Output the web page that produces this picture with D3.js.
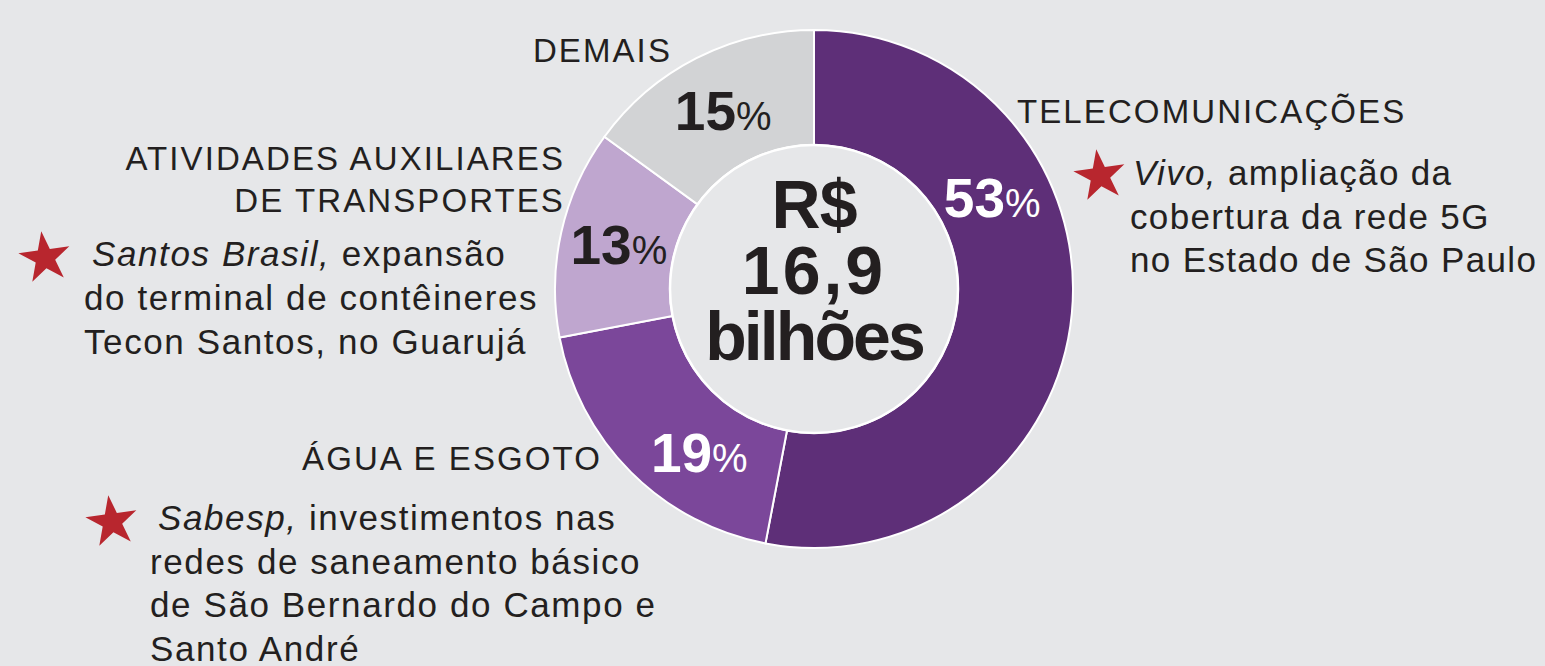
<!DOCTYPE html>
<html lang="pt">
<head>
    <meta charset="utf-8">
    <title>Investimentos por setor</title>
    <style>
        html, body { margin: 0; padding: 0; background: #e6e7e9; }
        svg text { font-family: "Liberation Sans", Arial, sans-serif; fill: #231f20; }
        .cat { font-size: 33px; letter-spacing: 2.1px; }
        .note { font-size: 35px; letter-spacing: 1.6px; }
        .note.right { letter-spacing: 1.35px; }
        .pct { font-size: 55px; font-weight: bold; }
        .center { font-size: 68px; font-weight: bold; }
    </style>
    <script src="https://d3js.org/d3.v7.min.js"></script>
</head>
<body>
<div id="chart"></div>
<script>
    // slices, clockwise from 12 o'clock
    const sectors = ["TELECOMUNICAÇÕES", "ÁGUA E ESGOTO", "ATIVIDADES AUXILIARES DE TRANSPORTES", "DEMAIS"];
    const shares = [53, 19, 13, 15];
    const colors = ["#5e2f78", "#7b479a", "#bfa6cf", "#d2d3d5"];
    const pctColors = ["#ffffff", "#ffffff", "#231f20", "#231f20"];
    const centerLines = ["R$", "16,9", "bilhões"];

    const width = 1545, height = 666;
    const cx = 814, cy = 289, rOuter = 259, rInner = 144;

    const svg = d3.select("#chart")
        .append("svg")
        .attr("width", width)
        .attr("height", height);

    svg.append("rect").attr("width", width).attr("height", height).attr("fill", "#e6e7e9");

    const g = svg.append("g").attr("transform", `translate(${cx},${cy})`);

    const pie = d3.pie().sort(null).value(d => d);
    const arcs = pie(shares);
    const arc = d3.arc().innerRadius(rInner).outerRadius(rOuter);

    g.selectAll("path.slice")
        .data(arcs)
        .join("path")
        .attr("class", "slice")
        .attr("d", arc)
        .attr("fill", (d, i) => colors[i])
        .attr("stroke", "#ffffff")
        .attr("stroke-width", 2);

    // white ring round the hole
    g.append("circle")
        .attr("r", rInner)
        .attr("fill", "#e6e7e9")
        .attr("stroke", "#ffffff")
        .attr("stroke-width", 2.5);

    // percentage labels: angle (deg, clockwise from top) where each sits
    const labelAngle = [63, 215, null, null];
    const labelR = 200;
    arcs.forEach((a, i) => {
        const ang = labelAngle[i] !== null ? labelAngle[i] * Math.PI / 180 : (a.startAngle + a.endAngle) / 2;
        const x = labelR * Math.sin(ang), y = -labelR * Math.cos(ang);
        const t = g.append("text")
            .attr("class", "pct")
            .attr("x", x)
            .attr("y", y + 19)
            .attr("text-anchor", "middle")
            .style("fill", pctColors[i]);
        t.append("tspan").text(shares[i]);
        t.append("tspan").style("font-size", "40px").style("font-weight", "normal").text("%");
    });

    // centre total, one text block
    const spacing = [-1, 3, -2.9];
    g.append("text")
        .attr("class", "center")
        .attr("text-anchor", "middle")
        .selectAll("tspan")
        .data(centerLines)
        .join("tspan")
        .attr("x", 0)
        .attr("y", (d, i) => -61 + i * 66)
        .style("letter-spacing", (d, i) => spacing[i] + "px")
        .text(d => d);

    function lines(x, y, anchor, rows, cls, step, indent) {
        const t = svg.append("text").attr("class", cls).attr("text-anchor", anchor);
        rows.forEach((r, i) => {
            const ts = t.append("tspan").attr("x", x).attr("y", y + i * step);
            if (i === 0 && indent) ts.attr("dx", indent);
            r.forEach(part => {
                ts.append("tspan").style("font-style", part[1] ? "italic" : null).text(part[0]);
            });
        });
    }

    // category titles
    lines(672, 62, "end", [[["DEMAIS"]]], "cat", 42);
    lines(1017, 123, "start", [[["TELECOMUNICAÇÕES"]]], "cat", 42);
    lines(565, 170, "end", [[["ATIVIDADES AUXILIARES"]], [["DE TRANSPORTES"]]], "cat", 42);
    lines(602, 470, "end", [[["ÁGUA E ESGOTO"]]], "cat", 42);

    // notes
    lines(1130, 185, "start", [
        [["Vivo,", true], [" ampliação da"]],
        [["cobertura da rede 5G"]],
        [["no Estado de São Paulo"]]
    ], "note right", 43.5, 3);

    lines(84, 266, "start", [
        [["Santos Brasil,", true], [" expansão"]],
        [["do terminal de contêineres"]],
        [["Tecon Santos, no Guarujá"]]
    ], "note", 44, 8);

    lines(150, 530, "start", [
        [["Sabesp,", true], [" investimentos nas"]],
        [["redes de saneamento básico"]],
        [["de São Bernardo do Campo e"]],
        [["Santo André"]]
    ], "note", 43.5, 8);

    // red stars
    const star = d3.symbol().type(d3.symbolStar).size(820);
    [[1100, 176], [45, 258], [112, 522]].forEach(p => {
        svg.append("path")
            .attr("d", star())
            .attr("fill", "#b8262e")
            .attr("transform", `translate(${p[0]},${p[1]}) rotate(-8)`);
    });
</script>
</body>
</html>
